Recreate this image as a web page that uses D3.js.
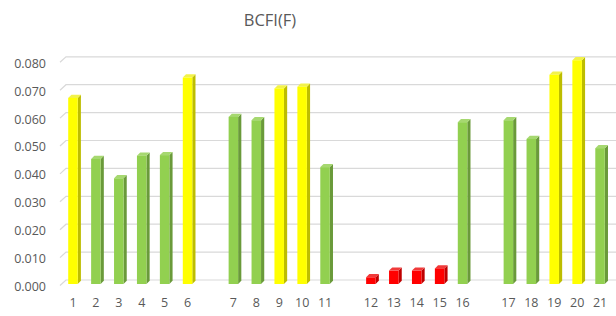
<!DOCTYPE html>
<html><head><meta charset="utf-8">
<script src="https://cdn.jsdelivr.net/npm/d3@7"></script>
<style>body{margin:0;background:#fff}svg{display:block}</style>
</head><body>
<script>
const title = "BCFI(F)";
const categories = ["1","2","3","4","5","6","","7","8","9","10","11","","12","13","14","15","16","","17","18","19","20","21"];
const values = [0.0667,0.0448,0.0379,0.0460,0.0462,0.0740,null,0.0599,0.0587,0.0701,0.0707,0.0419,null,0.0024,0.0048,0.0048,0.0056,0.0580,null,0.0587,0.0520,0.0750,0.0802,0.0487];
const groups = ["Y","G","G","G","G","Y",null,"G","G","Y","Y","G",null,"R","R","R","R","G",null,"G","G","Y","Y","G"];
const yTicks = [0,0.01,0.02,0.03,0.04,0.05,0.06,0.07,0.08];

const palette = {
  Y:{front:"#FFFF00", side:"#BDBD00", top:"#F2F24A"},
  G:{front:"#92D050", side:"#6A9A3A", top:"#A6D870"},
  R:{front:"#FF0000", side:"#BF0000", top:"#F03A3A"}
};

const W=616,H=316, depth=4;
const svg = d3.select("body").append("svg").attr("width",W).attr("height",H);

const idx = categories.map((c,i)=>i);
const x = d3.scaleBand().domain(idx).range([61.5,611.5]).paddingInner(0).paddingOuter(0);
const y = d3.scaleLinear().domain([0,0.08]).range([284,60.8]);
const yWall = v => y(v)-depth;

// gridlines (back wall) with slanted left floor edge
const grid = svg.append("g");
yTicks.forEach(t=>{
  const yy = yWall(t);
  grid.append("path")
    .attr("d",`M60,${yy+5.5}L66,${yy}L${W},${yy}`)
    .attr("fill","none").attr("stroke","#D9D9D9").attr("stroke-width",1.2);
});

// y axis labels
const yLab = d3.scaleLinear().domain([0,0.08]).range([286.5,63.2]);
const ya = svg.append("g").attr("transform","translate(46,0)")
  .call(d3.axisLeft(yLab).tickValues(yTicks).tickFormat(d3.format(".3f")).tickSize(0).tickPadding(0));
ya.select(".domain").remove();
ya.selectAll("text").attr("fill","#595959").style("font-family","'Open Sans', sans-serif").style("font-size","12.5px");

// x axis labels
const xa = svg.append("g").attr("transform","translate(0,298)")
  .call(d3.axisBottom(x).tickFormat(i=>categories[i]).tickSize(0).tickPadding(0));
xa.select(".domain").remove();
xa.selectAll("text").attr("fill","#595959").style("font-family","'Open Sans', sans-serif").style("font-size","12.5px");

// bars
const bw = 9.5, d = 3.2;
const bars = svg.append("g");
idx.forEach(i=>{
  const v = values[i];
  if(v==null) return;
  const p = palette[groups[i]];
  const cx = x(i)+x.bandwidth()/2;
  const x0 = cx-bw/2, x1 = cx+bw/2;
  const top = y(v), bot = y(0);
  bars.append("path").attr("d",`M${x1},${top}L${x1+d},${top-d}L${x1+d},${bot-d}L${x1},${bot}Z`).attr("fill",p.side);
  bars.append("path").attr("d",`M${x0},${top}L${x0+d},${top-d}L${x1+d},${top-d}L${x1},${top}Z`).attr("fill",p.top);
  bars.append("rect").attr("x",x0).attr("y",top).attr("width",bw).attr("height",bot-top).attr("fill",p.front);
});

svg.append("text").attr("x",270).attr("y",26).attr("text-anchor","middle")
  .attr("fill","#595959").style("font-family","'Open Sans', sans-serif").style("font-size","16.5px").text(title);
</script>
</body></html>
